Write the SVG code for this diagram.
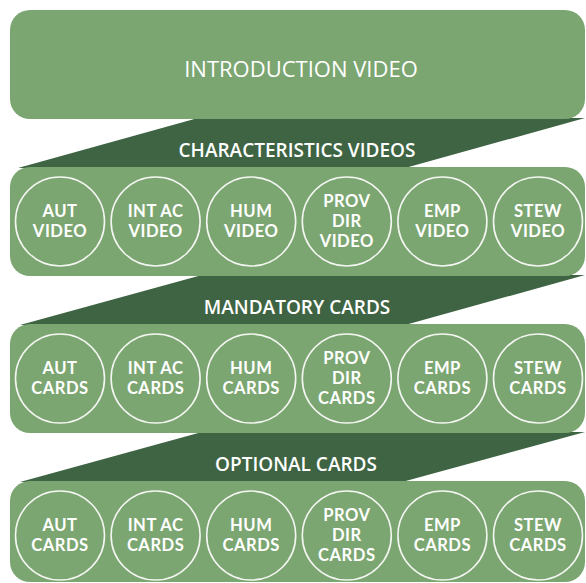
<svg xmlns="http://www.w3.org/2000/svg" width="586" height="583" viewBox="0 0 586 583">
<style>
.box{fill:#7ba671}
.band{fill:#3e6443}
.ring{fill:none;stroke:#f4f6f2;stroke-width:1.6}
.t{font-family:"Open Sans","Liberation Sans",sans-serif;fill:#ffffff;text-anchor:middle}
.title{font-size:22px;font-weight:500}
.lab{font-size:19px;font-weight:600}
.c{font-family:Lato,"Open Sans",sans-serif;font-size:16.6px;font-weight:700;letter-spacing:0.5px}
</style>
<rect x="0" y="0" width="586" height="583" fill="#ffffff"/>
<g id="connectors">
<polygon class="band" points="198,118 585,118 405,168 18,168"/>
<polygon class="band" points="202,275 585,275 405,325 20,325"/>
<polygon class="band" points="202,432 585,432 402,482 20,482"/>
</g>
<g id="intro">
<rect class="box" x="10" y="10" width="575" height="109" rx="20"/>
<text class="t title" x="301" y="77">INTRODUCTION VIDEO</text>
</g>
<g id="label-characteristics"><text class="t lab" x="297" y="157">CHARACTERISTICS VIDEOS</text></g>
<g id="label-mandatory"><text class="t lab" x="297" y="314">MANDATORY CARDS</text></g>
<g id="label-optional"><text class="t lab" x="296" y="471">OPTIONAL CARDS</text></g>

<g id="row-videos">
<rect class="box" x="10" y="167" width="575" height="109" rx="20"/>
<g id="aut-video"><circle class="ring" cx="60" cy="221.5" r="44.5"/><text class="t c" x="60" y="217">AUT<tspan x="60" dy="20">VIDEO</tspan></text></g>
<g id="intac-video"><circle class="ring" cx="155.6" cy="221.5" r="44.5"/><text class="t c" x="155.6" y="217">INT AC<tspan x="155.6" dy="20">VIDEO</tspan></text></g>
<g id="hum-video"><circle class="ring" cx="251.2" cy="221.5" r="44.5"/><text class="t c" x="251.2" y="217">HUM<tspan x="251.2" dy="20">VIDEO</tspan></text></g>
<g id="provdir-video"><circle class="ring" cx="346.8" cy="221.5" r="44.5"/><text class="t c" x="346.8" y="207">PROV<tspan x="346.8" dy="20">DIR</tspan><tspan x="346.8" dy="20">VIDEO</tspan></text></g>
<g id="emp-video"><circle class="ring" cx="442.4" cy="221.5" r="44.5"/><text class="t c" x="442.4" y="217">EMP<tspan x="442.4" dy="20">VIDEO</tspan></text></g>
<g id="stew-video"><circle class="ring" cx="538" cy="221.5" r="44.5"/><text class="t c" x="538" y="217">STEW<tspan x="538" dy="20">VIDEO</tspan></text></g>
</g>

<g id="row-mandatory">
<rect class="box" x="10" y="324" width="575" height="109" rx="20"/>
<g id="aut-mand"><circle class="ring" cx="60" cy="378.5" r="44.5"/><text class="t c" x="60" y="374">AUT<tspan x="60" dy="20">CARDS</tspan></text></g>
<g id="intac-mand"><circle class="ring" cx="155.6" cy="378.5" r="44.5"/><text class="t c" x="155.6" y="374">INT AC<tspan x="155.6" dy="20">CARDS</tspan></text></g>
<g id="hum-mand"><circle class="ring" cx="251.2" cy="378.5" r="44.5"/><text class="t c" x="251.2" y="374">HUM<tspan x="251.2" dy="20">CARDS</tspan></text></g>
<g id="provdir-mand"><circle class="ring" cx="346.8" cy="378.5" r="44.5"/><text class="t c" x="346.8" y="364">PROV<tspan x="346.8" dy="20">DIR</tspan><tspan x="346.8" dy="20">CARDS</tspan></text></g>
<g id="emp-mand"><circle class="ring" cx="442.4" cy="378.5" r="44.5"/><text class="t c" x="442.4" y="374">EMP<tspan x="442.4" dy="20">CARDS</tspan></text></g>
<g id="stew-mand"><circle class="ring" cx="538" cy="378.5" r="44.5"/><text class="t c" x="538" y="374">STEW<tspan x="538" dy="20">CARDS</tspan></text></g>
</g>

<g id="row-optional">
<rect class="box" x="10" y="481" width="575" height="101" rx="20"/>
<g id="aut-opt"><circle class="ring" cx="60" cy="535.5" r="44.5"/><text class="t c" x="60" y="531">AUT<tspan x="60" dy="20">CARDS</tspan></text></g>
<g id="intac-opt"><circle class="ring" cx="155.6" cy="535.5" r="44.5"/><text class="t c" x="155.6" y="531">INT AC<tspan x="155.6" dy="20">CARDS</tspan></text></g>
<g id="hum-opt"><circle class="ring" cx="251.2" cy="535.5" r="44.5"/><text class="t c" x="251.2" y="531">HUM<tspan x="251.2" dy="20">CARDS</tspan></text></g>
<g id="provdir-opt"><circle class="ring" cx="346.8" cy="535.5" r="44.5"/><text class="t c" x="346.8" y="521">PROV<tspan x="346.8" dy="20">DIR</tspan><tspan x="346.8" dy="20">CARDS</tspan></text></g>
<g id="emp-opt"><circle class="ring" cx="442.4" cy="535.5" r="44.5"/><text class="t c" x="442.4" y="531">EMP<tspan x="442.4" dy="20">CARDS</tspan></text></g>
<g id="stew-opt"><circle class="ring" cx="538" cy="535.5" r="44.5"/><text class="t c" x="538" y="531">STEW<tspan x="538" dy="20">CARDS</tspan></text></g>
</g>
</svg>
